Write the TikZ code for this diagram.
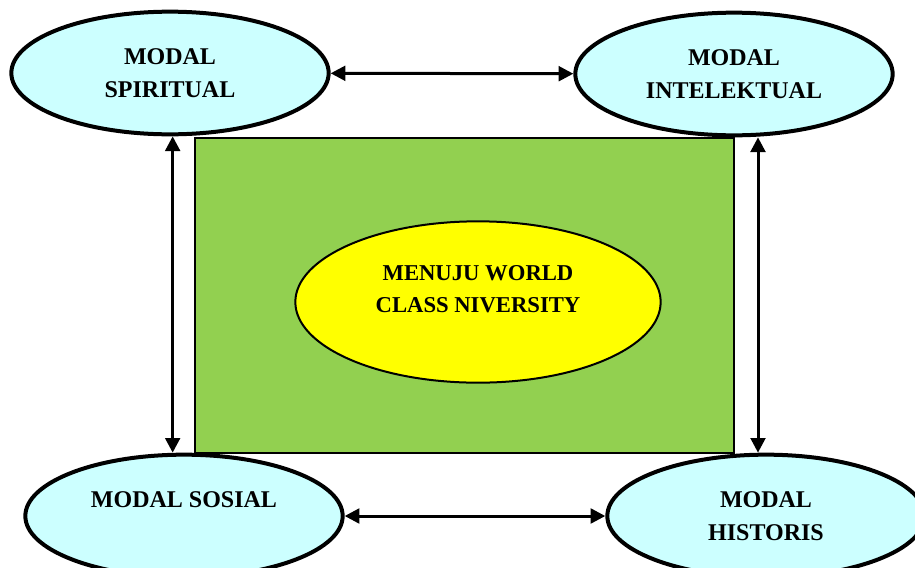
\documentclass[tikz,border=0pt]{standalone}
\usepackage{fontspec}
\setmainfont{Liberation Serif}
\usetikzlibrary{arrows.meta,shapes.geometric}
\definecolor{modalcyan}{HTML}{CCFFFF}
\definecolor{kotakhijau}{HTML}{92D050}
\definecolor{tujuankuning}{HTML}{FFFF00}
\tikzset{
  modal/.style={ellipse, draw, line width=3pt, fill=modalcyan, minimum width=238pt,
    minimum height=92pt, inner sep=0pt, align=center, font=\bfseries\fontsize{18}{25}\selectfont},
  tujuanbox/.style={ellipse, draw, line width=1.5pt, fill=tujuankuning, minimum width=274pt,
    minimum height=121pt, inner sep=0pt},
  panah/.style={line width=2.25pt, {Triangle[length=11pt,width=11pt]}-{Triangle[length=11pt,width=11pt]}}
}
\begin{document}
\begin{tikzpicture}[x=0.75pt,y=-0.75pt]
  \useasboundingbox (0,0) rectangle (915,568);
  \draw[fill=kotakhijau, line width=1pt] (195,138) rectangle (734,453);
  \node[tujuanbox] (tujuan) at (478,302) {};
  \node[align=center, font=\bfseries\fontsize{17}{24}\selectfont] (judul) at (478,289) {MENUJU WORLD\\CLASS NIVERSITY};
  \node[modal] (spiritual)   at (170,73)  {MODAL\\SPIRITUAL};
  \node[modal] (intelektual) at (734,74)  {MODAL\\INTELEKTUAL};
  \node[modal] (sosial)      at (184,516) {MODAL SOSIAL\\~};
  \node[modal] (historis)    at (766,516) {MODAL\\HISTORIS};
  \draw[panah] (spiritual) -- (intelektual);
  \draw[panah] (sosial) -- (historis);
  \draw[panah] ([xshift=2pt]spiritual.south) -- ([xshift=2pt]spiritual.south |- sosial.north);
  \draw[panah] ([xshift=18pt]intelektual.south) -- ([xshift=18pt]intelektual.south |- historis.north);
\end{tikzpicture}
\end{document}
